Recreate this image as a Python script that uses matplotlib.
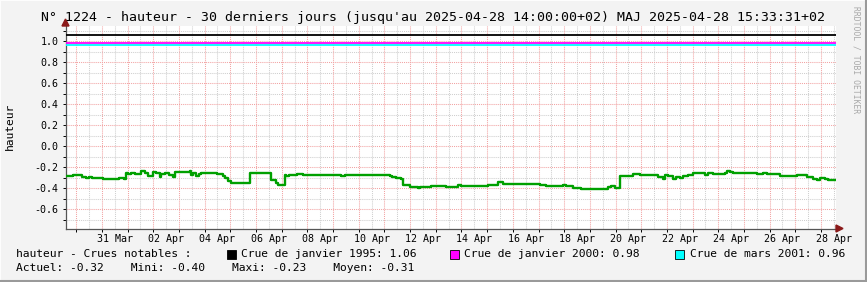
import matplotlib
matplotlib.use("Agg")
import matplotlib.pyplot as plt
from matplotlib.patches import Rectangle, Polygon
from matplotlib.lines import Line2D
import numpy as np

# data: hours since 2025-03-29 14:00 and water level (step changes)
hours = [0, 7, 15, 19, 22, 25, 35, 46, 50, 55, 57, 58, 61, 65, 71, 74, 77, 82, 85, 88,
         89.5, 93, 97, 100, 102, 116, 117.5, 119, 122, 125, 127, 135, 142, 147, 149, 152,
         155, 172, 181, 192, 197, 198.5, 205, 206, 209, 216, 222, 225, 240.6, 246.8, 253.1,
         257.8, 260.9, 265.5, 270.2, 281.1, 284.2, 288.9, 290.5, 293.6, 298.3, 302.9, 305.4,
         309.2, 313.9, 315.4, 321.6, 329.4, 331, 341.9, 356, 366.8, 370, 394.9, 404.2, 408.9,
         435.4, 438.5, 443.2, 449.4, 465, 468.1, 474.3, 482.1, 507, 510.2, 513.3, 518,
         530.4, 536.7, 546, 550.7, 553.8, 558.5, 560, 563.1, 567.8, 570.9, 574.1, 577.2,
         581.9, 586.5, 591.2, 597.5, 600.6, 605.3, 609.9, 616.2, 617.7, 620.8, 623.9, 630.2,
         645.8, 652, 655.1, 667.6, 680, 683.2, 692.5, 698.7, 701.9, 705, 709.7, 712.8, 720]
hauteur = [-0.283, -0.276, -0.289, -0.298, -0.289, -0.305, -0.308, -0.314, -0.305, -0.314,
           -0.251, -0.263, -0.257, -0.263, -0.235, -0.251, -0.283, -0.241, -0.257, -0.289,
           -0.263, -0.257, -0.273, -0.289, -0.241, -0.235, -0.273, -0.251, -0.283, -0.263,
           -0.251, -0.257, -0.263, -0.279, -0.305, -0.327, -0.352, -0.251, -0.257, -0.32,
           -0.352, -0.368, -0.273, -0.283, -0.27, -0.263, -0.273, -0.27, -0.276, -0.27,
           -0.276, -0.279, -0.27, -0.276, -0.27, -0.276, -0.27, -0.276, -0.27, -0.276,
           -0.27, -0.279, -0.289, -0.298, -0.314, -0.371, -0.39, -0.40, -0.39, -0.375,
           -0.384, -0.365, -0.375, -0.365, -0.34, -0.356, -0.362, -0.356, -0.365, -0.375,
           -0.365, -0.375, -0.394, -0.406, -0.39, -0.378, -0.394, -0.279, -0.263, -0.27,
           -0.276, -0.27, -0.289, -0.308, -0.27, -0.283, -0.308, -0.289, -0.298, -0.283,
           -0.27, -0.251, -0.257, -0.27, -0.254, -0.267, -0.26, -0.254, -0.232, -0.241,
           -0.251, -0.257, -0.263, -0.257, -0.263, -0.279, -0.283, -0.276, -0.289, -0.308,
           -0.317, -0.302, -0.308, -0.317, -0.317]

crues_noms = ["Crue de janvier 1995", "Crue de janvier 2000", "Crue de mars 2001"]
crues_val = [1.06, 0.98, 0.96]
crues_col = ["#000000", "#ff00ff", "#00ffff"]

day_labels = ["31 Mar", "02 Apr", "04 Apr", "06 Apr", "08 Apr", "10 Apr", "12 Apr", "14 Apr",
              "16 Apr", "18 Apr", "20 Apr", "22 Apr", "24 Apr", "26 Apr", "28 Apr"]
yticks = [-0.6, -0.4, -0.2, 0.0, 0.2, 0.4, 0.6, 0.8, 1.0]

W, H = 867, 282
plt.rcParams['font.family'] = 'DejaVu Sans Mono'

fig = plt.figure(figsize=(W / 100, H / 100), dpi=100, facecolor="#f3f3f3")
L, R, T, B = 65.5, 836, 26, 228.5
ax = fig.add_axes([L / W, 1 - B / H, (R - L) / W, (B - T) / H])
ax.set_facecolor("white")
ax.set_xlim(0, 720)
ax.set_ylim(-0.782, 1.143)

# grid
mid = 10  # first midnight (30 Mar 00:00)
majors_x = np.arange(mid, 720, 24)
minors_x = np.arange(mid + 12, 720, 24)
for x in minors_x:
    ax.axvline(x, color="#cfcfcf", lw=0.75, ls=(0, (1, 1)), zorder=1)
for y in np.arange(-0.7, 1.15, 0.2):
    ax.axhline(y, color="#cfcfcf", lw=0.75, ls=(0, (1, 1)), zorder=1)
for x in majors_x:
    ax.axvline(x, color="#f2a3a3", lw=0.75, ls=(0, (1, 1)), zorder=1)
for y in yticks:
    ax.axhline(y, color="#f2a3a3", lw=0.75, ls=(0, (1, 1)), zorder=1)

for v, c in zip(crues_val, crues_col):
    ax.axhline(v, color=c, lw=1.3, zorder=3)

ax.plot(hours, hauteur, drawstyle="steps-post", color="#00a000", lw=1.7, zorder=4)

# ticks
ax.set_yticks(yticks)
ax.set_yticklabels(["%.1f" % v for v in yticks])
ax.set_yticks(np.arange(-0.7, 1.15, 0.2), minor=True)
label_pos = [mid + 24 + 12 + 48 * i for i in range(len(day_labels))]
ax.set_xticks(label_pos)
ax.set_xticklabels(day_labels)
ax.set_xticks(majors_x, minor=True)
ax.tick_params(axis="both", labelsize=7.2, colors="#000000", length=2.5, width=0.7,
               pad=2.5, direction="out")
ax.tick_params(axis="x", which="major", length=0)
ax.tick_params(axis="both", which="minor", length=2, width=0.7)
ax.tick_params(axis="x", pad=4)

for s in ["top", "right"]:
    ax.spines[s].set_visible(False)
for s in ["left", "bottom"]:
    ax.spines[s].set_color("#555555")
    ax.spines[s].set_linewidth(0.9)

# axis arrows
fig.patches.append(Polygon([[(R + 0) / W, 1 - (B - 3.5) / H], [(R + 7) / W, 1 - B / H],
                            [(R + 0) / W, 1 - (B + 3.5) / H]], closed=True,
                           transform=fig.transFigure, color="#8b1a1a"))
fig.patches.append(Polygon([[(L - 3.5) / W, 1 - T / H], [L / W, 1 - (T - 7) / H],
                            [(L + 3.5) / W, 1 - T / H]], closed=True,
                           transform=fig.transFigure, color="#8b1a1a"))

# title and labels
fig.text(433 / W, 1 - 18 / H,
         "N° 1224 - hauteur - 30 derniers jours (jusqu'au 2025-04-28 14:00:00+02) MAJ 2025-04-28 15:33:31+02",
         ha="center", va="center", fontsize=9.5)
fig.text(10 / W, 1 - 126 / H, "hauteur", rotation=90, ha="center", va="center", fontsize=8.1)
fig.text(856 / W, 1 - 60 / H, "RRDTOOL / TOBI OETIKER", rotation=-90, ha="center",
         va="center", fontsize=5.8, color="#a8a8a8")

# legend
fig.text(16 / W, 1 - 254 / H, "hauteur - Crues notables :", ha="left", va="center", fontsize=8.1)
box_x = [226.5, 450, 675]
for bx, n, v, c in zip(box_x, crues_noms, crues_val, crues_col):
    fig.patches.append(Rectangle((bx / W, 1 - 259 / H), 9 / W, 9 / H, transform=fig.transFigure,
                                 facecolor=c, edgecolor="#000000", lw=0.6))
    fig.text((bx + 14.5) / W, 1 - 254 / H, "%s: %.2f" % (n, v), ha="left", va="center",
             fontsize=8.1)
fig.text(16 / W, 1 - 268 / H,
         "Actuel: -0.32    Mini: -0.40    Maxi: -0.23    Moyen: -0.31",
         ha="left", va="center", fontsize=8.1)

# frame
fig.add_artist(Line2D([0, 0, 1], [0, 1, 1], transform=fig.transFigure, color="#fdfdfd", lw=1.5))
fig.add_artist(Line2D([0, 1, 1], [1 / H, 1 / H, 1], transform=fig.transFigure, color="#9a9a9a", lw=1.5))
fig.add_artist(Line2D([1 - 1 / W, 1 - 1 / W], [0, 1], transform=fig.transFigure, color="#9a9a9a", lw=1.5))

fig.savefig("out.png", dpi=100, facecolor=fig.get_facecolor())
